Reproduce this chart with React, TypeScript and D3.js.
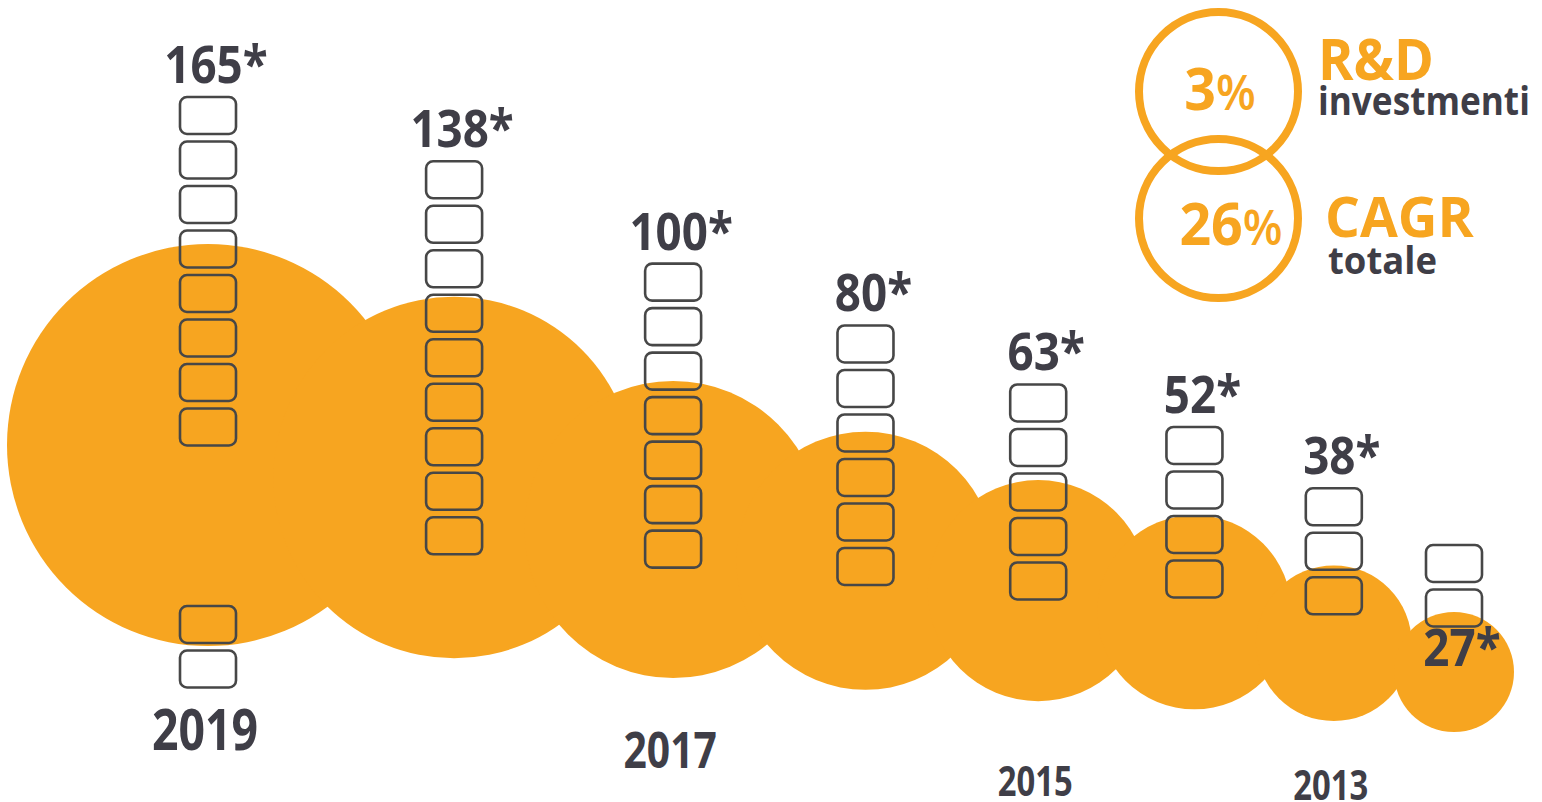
import React, { useEffect, useRef } from 'react';
import * as d3 from 'd3';

// anni, dal più recente al più vecchio (sinistra → destra)
const years = ['2019', '2018', '2017', '2016', '2015', '2014', '2013', '2012'];
const values = [165, 138, 100, 80, 63, 52, 38, 27];
const valueLabels = ['165*', '138*', '100*', '80*', '63*', '52*', '38*', '27*'];
const blocksAbove = [8, 9, 7, 6, 5, 4, 3, 2];
const blocksBelow = [2, 0, 0, 0, 0, 0, 0, 0];
const yearLabels = ['2019', '2017', '2015', '2013'];

const kpiValues = ['3', '26'];
const kpiTitles = ['R&D', 'CAGR'];
const kpiSubtitles = ['investmenti', 'totale'];

const ORANGE = '#F7A520';
const DARK = '#3F3E47';
const BLOCK = '#474747';
const FONT = '"Open Sans", sans-serif';

const App: React.FC = () => {
  const svgRef = useRef<SVGSVGElement>(null);

  useEffect(() => {
    if (!svgRef.current) return;
    const svg = d3.select(svgRef.current);
    svg.selectAll('*').remove();

    const squeeze = 0.88;

    const extent = d3.extent(values) as [number, number];
    const r = d3.scaleSqrt().domain(extent).range([60, 201]);
    const cy = d3.scaleSqrt().domain(extent).range([672, 445]);
    const stackTop = d3.scaleSqrt().domain(extent).range([545, 97]);

    // centres: gaps follow the sum of neighbouring radii, then fitted to the width
    const cum = [0];
    for (let i = 1; i < values.length; i++) {
      cum.push(cum[i - 1] + r(values[i - 1]) + r(values[i]) + 95);
    }
    const x = d3.scaleLinear().domain([0, cum[cum.length - 1]]).range([208, 1454]);
    const cx = (i: number) => x(cum[i]);

    const blockW = 56;
    const blockH = 37;
    const pitch = 44.5;

    const data = values.map((v, i) => ({ v, i, year: years[i] }));

    // bubbles
    svg.append('g')
      .selectAll('circle')
      .data(data)
      .enter().append('circle')
      .attr('cx', d => cx(d.i))
      .attr('cy', d => cy(d.v))
      .attr('r', d => r(d.v))
      .attr('fill', ORANGE);

    // stacks of blocks
    const blocks: { x: number; y: number }[] = [];
    data.forEach(d => {
      const top = stackTop(d.v);
      for (let k = 0; k < blocksAbove[d.i]; k++) {
        blocks.push({ x: cx(d.i), y: top + k * pitch });
      }
      const bottom = cy(d.v) + r(d.v) - 40;
      for (let k = 0; k < blocksBelow[d.i]; k++) {
        blocks.push({ x: cx(d.i), y: bottom + k * pitch });
      }
    });

    svg.append('g')
      .selectAll('rect')
      .data(blocks)
      .enter().append('rect')
      .attr('x', d => d.x - blockW / 2)
      .attr('y', d => d.y)
      .attr('width', blockW)
      .attr('height', blockH)
      .attr('rx', 7)
      .attr('fill', 'none')
      .attr('stroke', BLOCK)
      .attr('stroke-width', 2.6);

    // value labels (the last one sits under its stack, inside the bubble)
    const last = values.length - 1;
    svg.append('g')
      .selectAll('text')
      .data(data)
      .enter().append('text')
      .attr('transform', d => {
        const top = stackTop(d.v);
        const y = d.i === last
          ? top + (blocksAbove[d.i] - 1) * pitch + blockH + 39
          : top - 14;
        return `translate(${cx(d.i) + 8},${y}) scale(${squeeze},1)`;
      })
      .attr('text-anchor', 'middle')
      .style('font-family', FONT)
      .style('font-weight', '700')
      .style('font-size', '52px')
      .style('fill', DARK)
      .text(d => valueLabels[d.i]);

    // year labels
    const yearSize = d3.scaleLinear().domain([63, 100, 165]).range([41, 51, 58]).clamp(true);
    const yearBase = d3.scaleLinear().domain([38, 63, 100, 165]).range([800, 796, 768, 750]);

    svg.append('g')
      .selectAll('text')
      .data(data.filter(d => yearLabels.includes(d.year)))
      .enter().append('text')
      .attr('transform', d => `translate(${cx(d.i) - 3},${yearBase(d.v)}) scale(0.8,1)`)
      .attr('text-anchor', 'middle')
      .style('font-family', FONT)
      .style('font-weight', '700')
      .style('font-size', d => `${yearSize(d.v)}px`)
      .style('fill', DARK)
      .text(d => d.year);

    // KPI rings, top right
    const kpi = svg.append('g');
    const ringX = 1218.5;
    const ringY = [91.5, 218.5];
    const pctX = [1220, 1231];
    const pctBase = [110, 245];
    const titleX = [1318, 1325];
    const titleBase = [80, 237];
    const subX = [1318, 1328];
    const subBase = [115, 274];

    kpiValues.forEach((val, i) => {
      kpi.append('circle')
        .attr('cx', ringX)
        .attr('cy', ringY[i])
        .attr('r', 79.5)
        .attr('fill', 'none')
        .attr('stroke', ORANGE)
        .attr('stroke-width', 8);

      const t = kpi.append('text')
        .attr('transform', `translate(${pctX[i]},${pctBase[i]}) scale(0.94,1)`)
        .attr('text-anchor', 'middle')
        .style('font-family', FONT)
        .style('font-weight', '700')
        .style('fill', ORANGE);
      t.append('tspan').style('font-size', '59px').text(val);
      t.append('tspan').style('font-size', '49px').style('font-weight', '600').text('%');

      kpi.append('text')
        .attr('transform', `translate(${titleX[i]},${titleBase[i]}) scale(${i === 0 ? 0.93 : 0.98},1)`)
        .style('font-family', FONT)
        .style('font-weight', '700')
        .style('font-size', i === 0 ? '58px' : '56px')
        .style('fill', ORANGE)
        .text(kpiTitles[i]);

      kpi.append('text')
        .attr('transform', `translate(${subX[i]},${subBase[i]}) scale(${i === 0 ? 0.88 : 0.96},1)`)
        .style('font-family', FONT)
        .style('font-weight', '700')
        .style('font-size', i === 0 ? '40px' : '38px')
        .style('fill', DARK)
        .text(kpiSubtitles[i]);
    });
  }, []);

  return (
    <svg
      ref={svgRef}
      width={1542}
      height={802}
      viewBox="0 0 1542 802"
      style={{ position: 'fixed', left: 0, top: 0, background: '#fff' }}
    />
  );
};

export default App;
